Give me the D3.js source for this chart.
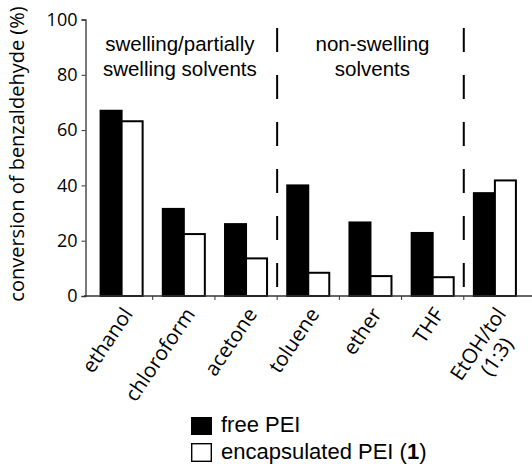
<!DOCTYPE html>
<html>
<head>
<meta charset="utf-8">
<script src="https://d3js.org/d3.v7.min.js"></script>
<style>
  body { margin: 0; background: #fff; }
</style>
</head>
<body>
<div id="chart"></div>
<script>
// values
var categories = ["ethanol", "chloroform", "acetone", "toluene", "ether", "THF", "EtOH/tol|(1:3)"]
var freePEI = [67, 31.5, 26, 40, 26.6, 22.8, 37.2]
var encapsulatedPEI = [63.2, 22.4, 13.6, 8.4, 7.2, 6.8, 41.8]
var yTicks = [0, 20, 40, 60, 80, 100]
var groupTitles = [["swelling/partially", "swelling solvents"], ["non-swelling", "solvents"]]
var groupStarts = ["ethanol", "toluene"]
var dividers = ["toluene", "EtOH/tol|(1:3)"]
var seriesNames = ["free PEI", "encapsulated PEI"]

var width = 532, height = 464
var svg = d3.select("#chart").append("svg")
  .attr("width", width).attr("height", height)
  .style("font-family", "'Liberation Sans', Arial, sans-serif")

var x = d3.scaleBand().domain(categories).range([90.5, 526]).padding(0)
var x1 = d3.scaleBand().domain(seriesNames).range([0, x.bandwidth()]).paddingInner(0).paddingOuter(0.48)
var y = d3.scaleLinear().domain([0, 100]).range([296, 19.5])

var rows = categories.map(function(c, i) {
  return { cat: c, vals: [freePEI[i], encapsulatedPEI[i]] }
})

// bars
var g = svg.selectAll(".grp").data(rows).enter().append("g")
  .attr("transform", function(d) { return "translate(" + x(d.cat) + ",0)" })
g.selectAll("rect").data(function(d) { return d.vals.map(function(v, j) { return { s: seriesNames[j], v: v } }) })
  .enter().append("rect")
  .attr("x", function(d) { return x1(d.s) })
  .attr("width", x1.bandwidth())
  .attr("y", function(d) { return y(d.v) })
  .attr("height", function(d) { return y(0) - y(d.v) })
  .attr("fill", function(d) { return d.s == "free PEI" ? "#000" : "#fff" })
  .attr("stroke", "#000")
  .attr("stroke-width", 2)

// dashed separators
svg.selectAll(".sep").data(dividers).enter().append("line")
  .attr("x1", function(d) { return x(d) }).attr("x2", function(d) { return x(d) })
  .attr("y1", 28).attr("y2", y(0))
  .attr("stroke", "#000").attr("stroke-width", 2)
  .attr("stroke-dasharray", "24,23")

// y axis
var yAxis = svg.append("g").attr("transform", "translate(85.5,0)")
  .call(d3.axisLeft(y).tickValues(yTicks).tickSize(4).tickPadding(4))
yAxis.select(".domain").attr("stroke", "#333").attr("stroke-width", 1.3)
yAxis.selectAll(".tick line").attr("stroke", "#333")
yAxis.selectAll(".tick text")
  .style("font-family", "'Open Sans', sans-serif")
  .style("font-size", "18px").attr("fill", "#000")

// x axis line and ticks at category boundaries
svg.append("line").attr("x1", 84).attr("x2", 532)
  .attr("y1", y(0)).attr("y2", y(0)).attr("stroke", "#333").attr("stroke-width", 1.5)
svg.selectAll(".xt").data(categories.slice(1)).enter().append("line")
  .attr("x1", function(d) { return x(d) }).attr("x2", function(d) { return x(d) })
  .attr("y1", y(0)).attr("y2", y(0) + 4).attr("stroke", "#333")

// x labels
var xl = svg.selectAll(".xl").data(categories).enter().append("text")
  .attr("transform", function(d) { return "translate(" + (x(d) + x.bandwidth() / 2 + 6) + ",310) rotate(-56)" })
  .attr("text-anchor", "end")
  .style("font-family", "'Open Sans', sans-serif")
  .style("font-size", "20.5px")
xl.each(function(d) {
  var parts = d.split("|")
  var t = d3.select(this)
  var first = t.append("tspan").attr("x", 0).attr("dy", "0.35em").text(parts[0])
  if (parts.length > 1) {
    var sec = t.append("tspan").attr("dy", "1.1em").text(parts[1])
    var shift = (first.node().getComputedTextLength() - sec.node().getComputedTextLength()) / 2
    sec.attr("x", -shift)
  }
})

// y label
svg.append("text")
  .attr("transform", "translate(24,154) rotate(-90)")
  .attr("text-anchor", "middle")
  .style("font-family", "'Open Sans', sans-serif")
  .style("font-size", "20px")
  .text("conversion of benzaldehyde (%)")

// group titles
groupTitles.forEach(function(lines, i) {
  var cx = i == 0 ? (x(groupStarts[0]) + x(dividers[0])) / 2 - 4 : (x(dividers[0]) + x(dividers[1])) / 2 + 2
  lines.forEach(function(l, k) {
    svg.append("text").attr("x", cx).attr("y", 51 + k * 25)
      .attr("text-anchor", "middle").style("font-size", "20.5px").text(l)
  })
})

// legend
var leg = svg.append("g").attr("transform", "translate(191,417)")
leg.append("rect").attr("x", 0).attr("y", 0).attr("width", 21).attr("height", 18).attr("fill", "#000")
leg.append("text").attr("x", 30).attr("y", 15).style("font-size", "22px").text("free PEI")
leg.append("rect").attr("x", 0.7).attr("y", 26.7).attr("width", 19.6).attr("height", 17.6)
  .attr("fill", "#fff").attr("stroke", "#000").attr("stroke-width", 1.4)
var lt = leg.append("text").attr("x", 30).attr("y", 42).style("font-size", "22px")
lt.append("tspan").text("encapsulated PEI (")
lt.append("tspan").style("font-weight", "bold").text("1")
lt.append("tspan").text(")")
</script>
</body>
</html>
